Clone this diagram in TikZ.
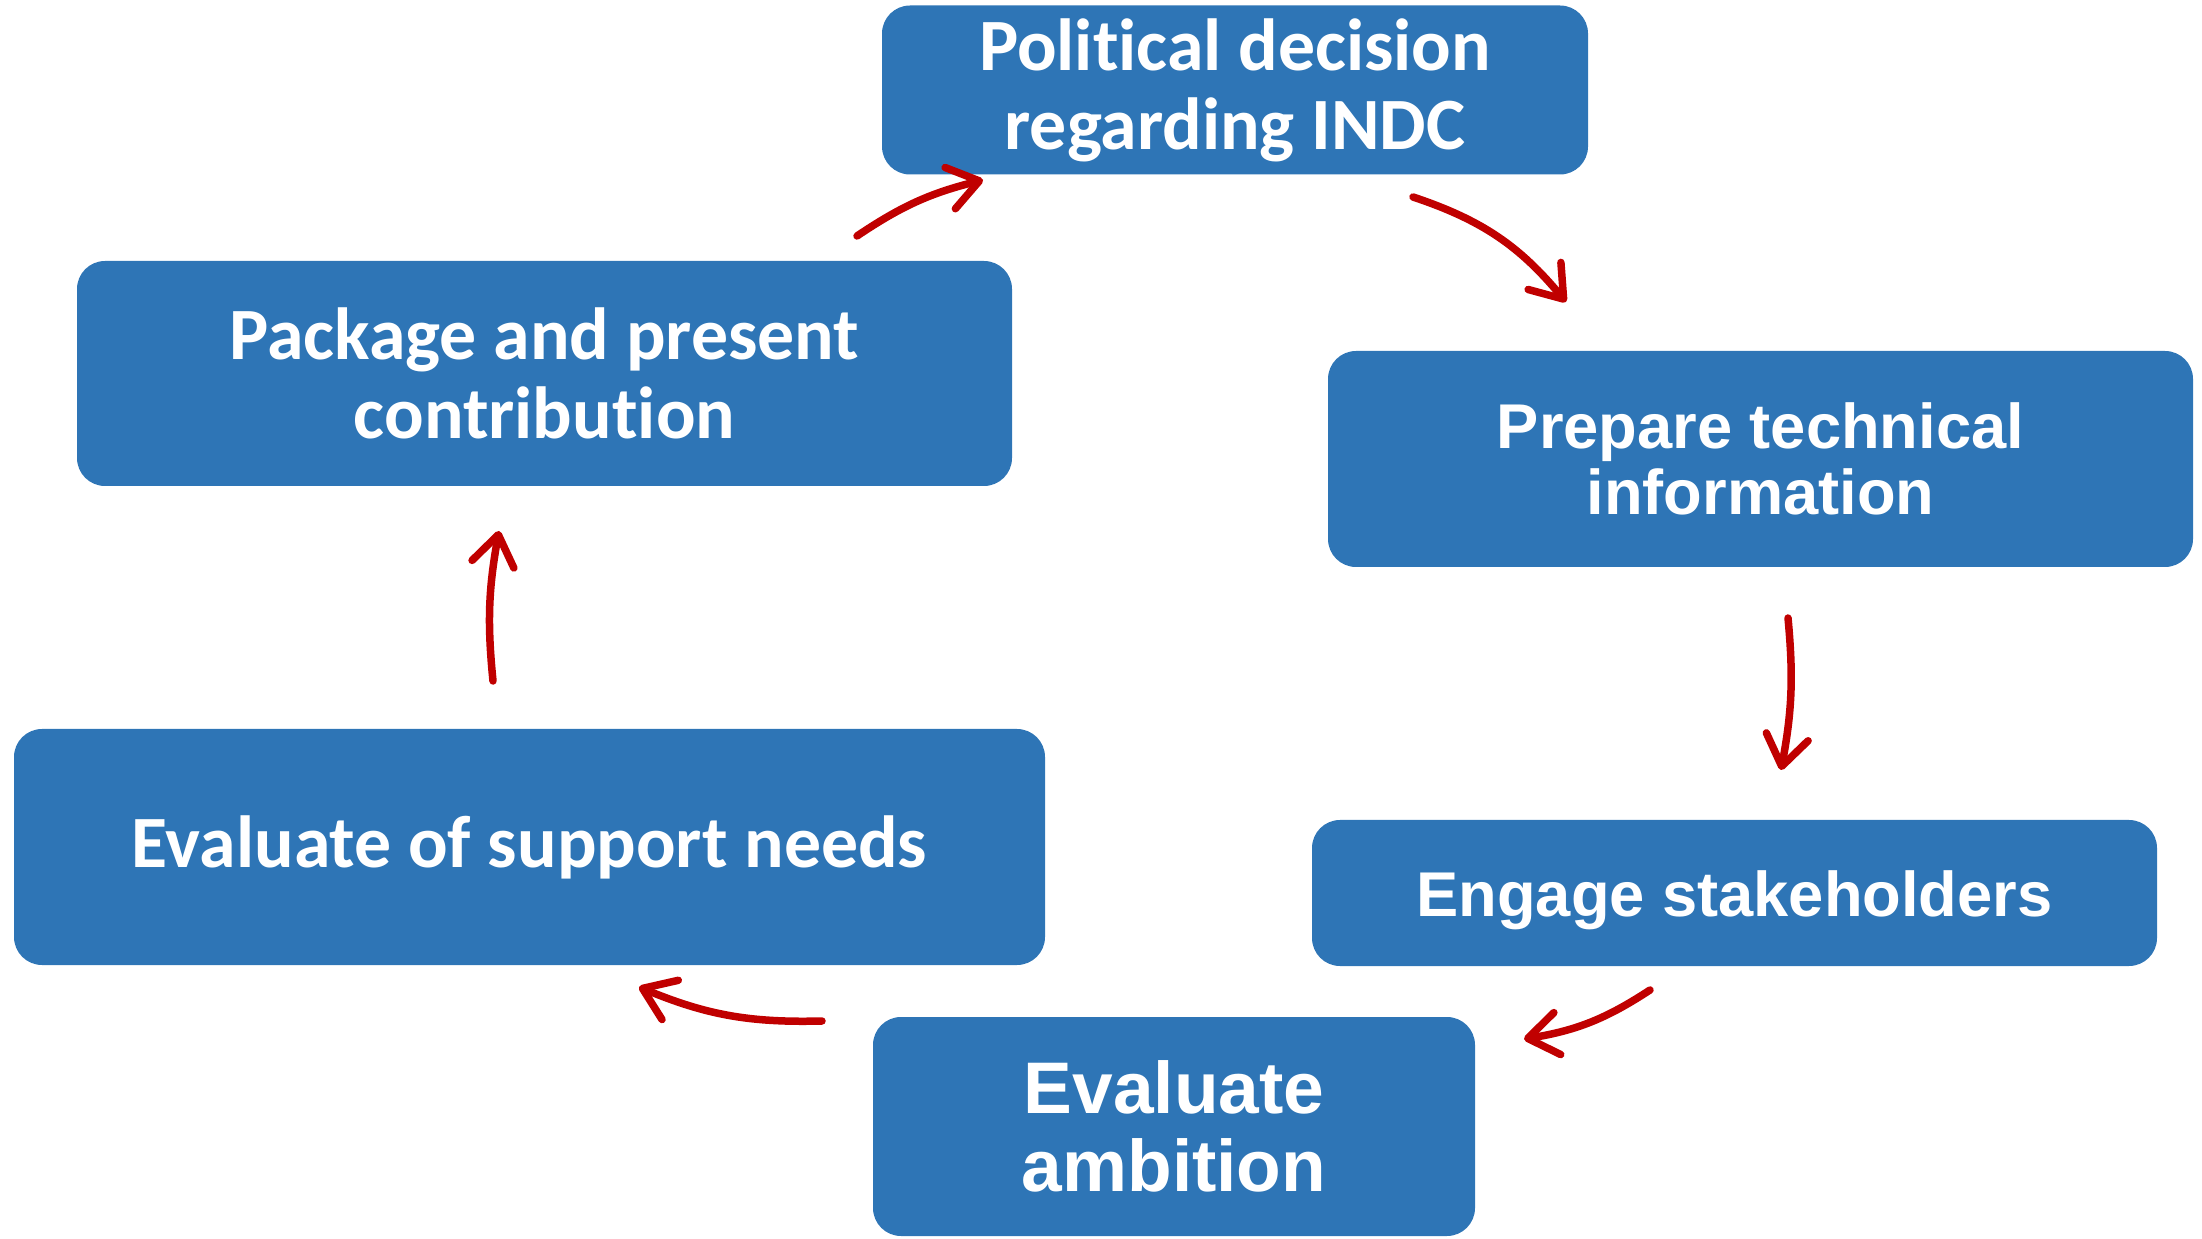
\documentclass[tikz,border=0pt]{standalone}
\usepackage{fontspec}
\setmainfont{Carlito}[Ligatures=NoCommon]
\newfontfamily\arialf{Liberation Sans}
\usetikzlibrary{arrows.meta}
\definecolor{boxblue}{RGB}{46,117,182}
\definecolor{arrred}{RGB}{192,0,0}
\begin{document}
\begin{tikzpicture}[x=0.02cm,y=-0.02cm,
  box/.style={fill=boxblue, rounded corners=0.56cm, text=white, align=center, inner sep=0pt},
  calfont/.style={font=\bfseries\fontsize{42}{45}\selectfont},
  arfont/.style={font=\arialf\bfseries\fontsize{36}{38}\selectfont},
  cyc/.style={draw=arrred, line width=0.15cm, line cap=round, -{Straight Barb[length=0.6cm,width=0.85cm,round]}}]
\useasboundingbox (0,0) rectangle (2202,1239);
\node[box, calfont, minimum width=706*0.02cm, minimum height=169*0.02cm] (pol) at (1235,90) {Political decision\\regarding INDC};
\node[box, arfont, minimum width=865*0.02cm, minimum height=216*0.02cm] (prep) at (1760.5,459) {Prepare technical\\information};
\node[box, arfont, minimum width=845*0.02cm, minimum height=146*0.02cm] (eng) at (1734.5,893) {\raisebox{-4pt}[\height][\depth]{Engage stakeholders}};
\node[box, font=\arialf\bfseries\fontsize{41.6}{44}\selectfont, minimum width=602*0.02cm, minimum height=219*0.02cm] (amb) at (1174,1126.5) {Evaluate\\ambition};
\node[box, calfont, minimum width=1031*0.02cm, minimum height=236*0.02cm] (sup) at (529.5,847) {Evaluate of support needs};
\node[box, calfont, minimum width=935*0.02cm, minimum height=225*0.02cm] (pck) at (544.5,373.5) {Package and present\\contribution};
\coordinate (a1s) at (857,236); \coordinate (a1e) at (983,180);
\coordinate (a2s) at (1413,197); \coordinate (a2e) at (1566,302);
\coordinate (a3s) at (1788,618); \coordinate (a3e) at (1781,770);
\coordinate (a4s) at (1650,990); \coordinate (a4e) at (1524,1039);
\coordinate (a5s) at (822,1021); \coordinate (a5e) at (639,987);
\coordinate (a6s) at (493,681); \coordinate (a6e) at (499,531);
\draw[cyc] (a1s) to[bend left=10] (a1e);
\draw[cyc] (a2s) to[bend left=16] (a2e);
\draw[cyc] (a3s) to[bend left=8] (a3e);
\draw[cyc] (a4s) to[bend left=12] (a4e);
\draw[cyc] (a5s) to[bend left=12] (a5e);
\draw[cyc] (a6s) to[bend left=8] (a6e);
\end{tikzpicture}
\end{document}
